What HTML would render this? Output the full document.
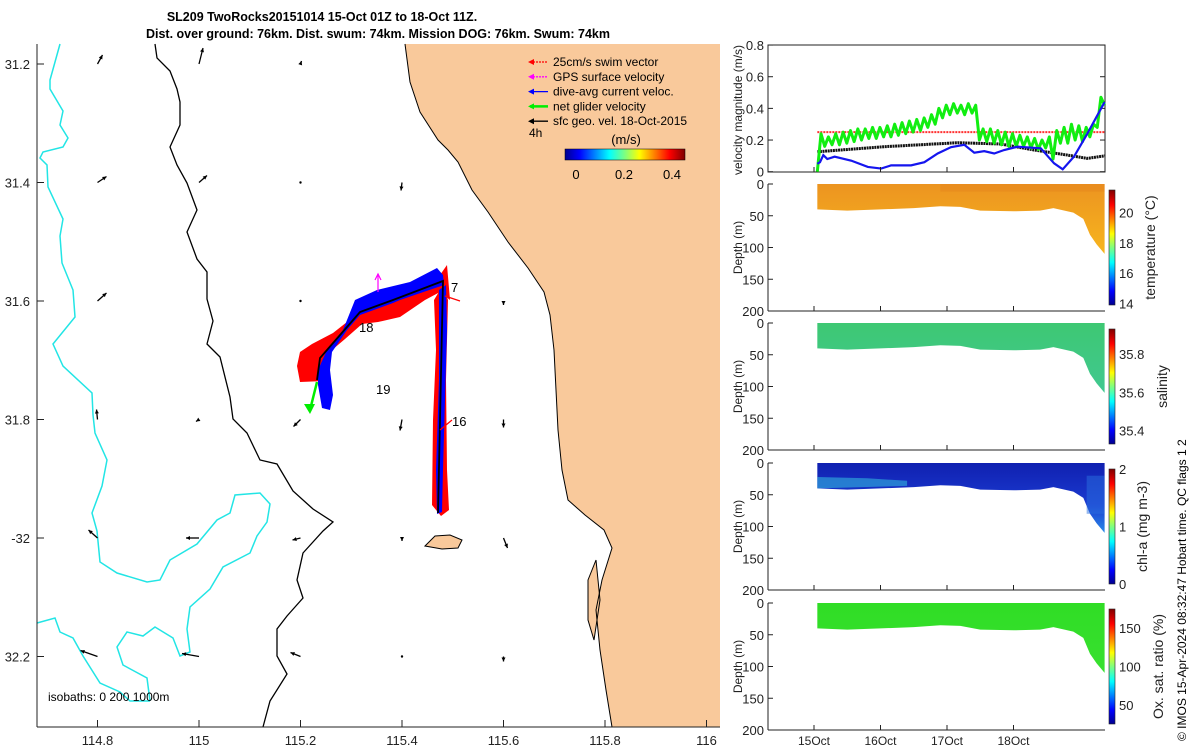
<!DOCTYPE html>
<html><head><meta charset="utf-8">
<style>
html,body{margin:0;padding:0;background:#fff;}
svg{display:block;font-family:"Liberation Sans","DejaVu Sans",sans-serif;}
</style></head>
<body>
<svg id="root" width="1200" height="750" viewBox="0 0 1200 750" xmlns="http://www.w3.org/2000/svg">
<defs>
<linearGradient id="jet" x1="0" x2="1" y1="0" y2="0">
<stop offset="0" stop-color="#00008f"/><stop offset="0.12" stop-color="#0000ff"/><stop offset="0.37" stop-color="#00ffff"/><stop offset="0.5" stop-color="#7fff7f"/><stop offset="0.62" stop-color="#ffff00"/><stop offset="0.87" stop-color="#ff0000"/><stop offset="1" stop-color="#800000"/>
</linearGradient>
<linearGradient id="jetv" x1="0" x2="0" y1="1" y2="0">
<stop offset="0" stop-color="#00008f"/><stop offset="0.12" stop-color="#0000ff"/><stop offset="0.37" stop-color="#00ffff"/><stop offset="0.5" stop-color="#7fff7f"/><stop offset="0.62" stop-color="#ffff00"/><stop offset="0.87" stop-color="#ff0000"/><stop offset="1" stop-color="#800000"/>
</linearGradient>
<linearGradient id="tempg" x1="0" x2="0" y1="0" y2="1"><stop offset="0" stop-color="#ec9420"/><stop offset="1" stop-color="#f7b51e"/></linearGradient>
<linearGradient id="salg" x1="0" x2="0" y1="0" y2="1"><stop offset="0" stop-color="#3ec873"/><stop offset="1" stop-color="#40c890"/></linearGradient>
<linearGradient id="chlg" x1="0" x2="0" y1="0" y2="1"><stop offset="0" stop-color="#1020b0"/><stop offset="0.6" stop-color="#1a3ad0"/><stop offset="1" stop-color="#2a8ae8"/></linearGradient>
<linearGradient id="oxg" x1="0" x2="0" y1="0" y2="1"><stop offset="0" stop-color="#30dd25"/><stop offset="1" stop-color="#38e030"/></linearGradient>
</defs>

<text x="322" y="21" font-size="12.5" font-weight="bold" text-anchor="middle">SL209 TwoRocks20151014 15-Oct 01Z to 18-Oct 11Z.</text>
<text x="378" y="38" font-size="12.5" font-weight="bold" text-anchor="middle">Dist. over ground: 76km. Dist. swum: 74km. Mission DOG: 76km. Swum: 74km</text>

<g id="map">
<polygon fill="#f9c99b" points="405,44 720,44 720,727 612,727 606,690 600,650 596,610 602,580 612,548 604,530 585,515 568,500 562,470 558,430 556,390 554,350 550,315 544,292 528,268 508,242 488,212 472,190 458,162 448,150 438,140 420,112 410,82"/>
<polygon fill="#f9c99b" stroke="#000" stroke-width="1" points="425,546 435,536 450,535 462,540 458,548 442,549"/>
<polygon fill="#f9c99b" stroke="#000" stroke-width="1" points="588,580 596,560 600,600 594,640 588,620"/>
<polyline fill="none" stroke="#000" stroke-width="1" points="405,44 410,82 420,112 438,140 448,150 458,162 472,190 488,212 508,242 528,268 544,292 550,315 554,350 556,390 558,430 562,470 568,500 585,515 604,530 612,548 602,580 596,610 600,650 606,690 612,727"/>
<polyline fill="none" stroke="#000" stroke-width="1.3" points="155,44 157,58 170,71 177,89 180,102 180,125 170,147 177,165 187,183 197,210 187,232 197,259 207,272 207,299 213,321 207,344 220,357 230,397 233,419 247,433 260,460 277,464 293,491 313,509 333,522 323,531 303,553 297,580 303,598 287,616 277,629 277,656 287,674 270,701 263,727"/>
<polyline fill="none" stroke="#22e5e5" stroke-width="1.5" points="60,44 50,80 50,89 63,111 60,125 68,138 63,147 43,152 40,158 47,165 48,187 63,219 60,236 62,263 73,290 75,317 53,344 63,366 92,393 93,415 95,433 107,460 102,486 92,513 97,531 100,562 117,573 147,582 160,580 170,560 197,544 217,520 230,513 235,495 260,493 270,504 267,522 257,536 250,553 223,567 210,589 190,607 187,629 190,652 180,656 173,638 155,627 143,636 127,632 117,647 123,665 147,678 150,701"/>
<polyline fill="none" stroke="#22e5e5" stroke-width="1.5" points="37,623 55,618 60,632 73,638 83,656 100,683 120,692 130,701 150,701"/>
<g id="arrows"></g>
<g id="track">
<polygon fill="#ff0000" points="447,265 450,300 440,292 425,300 400,317 378,322 362,324 345,339 332,350 327,362 325,381 300,382 297,366 300,352 312,344 333,333 347,322 360,313 395,300 440,275"/>
<polygon fill="#ff0000" points="434,300 443,285 448,300 446,380 447,470 449,510 441,516 432,505 433,420 436,350"/>
<polygon fill="#0000ff" points="355,300 377,290 410,282 437,268 443,275 444,285 400,300 393,303 360,315 347,330 332,352 330,370 333,395 330,410 322,408 318,385 318,370 327,350 343,330"/>
<polygon fill="#0000ff" points="439,290 446,285 447,330 445,400 443,470 442,512 437,514 436,470 439,380"/>
<polyline fill="none" stroke="#000" stroke-width="1.8" points="317,380 320,358 347,327 360,312 393,300 443,281 438,513"/>
<line x1="317" y1="382" x2="310" y2="410" stroke="#00ee00" stroke-width="2.5"/>
<polygon fill="#00ee00" points="304,404 310,414 315,404"/>
<line x1="378" y1="292" x2="378" y2="274" stroke="#ff00ff" stroke-width="1.2"/>
<polyline fill="none" stroke="#ff00ff" stroke-width="1.2" points="375,280 378,274 381,280"/>
<line x1="445" y1="296" x2="460" y2="301" stroke="#ff0000" stroke-width="1.2"/>
<line x1="440" y1="430" x2="452" y2="420" stroke="#ff0000" stroke-width="1.2"/>
</g>
<text x="451" y="292" font-size="13">7</text>
<text x="359" y="332" font-size="13">18</text>
<text x="376" y="394" font-size="13">19</text>
<text x="452" y="426" font-size="13">16</text>
<g id="maplegend"></g>
<text x="529" y="137" font-size="12">4h</text>
<rect x="565" y="149" width="120" height="11" fill="url(#jet)" stroke="#000" stroke-width="0.5"/>
<text x="626" y="144" font-size="13" text-anchor="middle">(m/s)</text>
<text x="48" y="701" font-size="12">isobaths: 0   200  1000m</text>
<g id="mapaxes"></g>
</g>

<g id="right"></g>
<text transform="translate(1186,741) rotate(-90)" font-size="12">© IMOS 15-Apr-2024 08:32:47 Hobart time. QC flags 1  2</text>
</svg>
<script>
// ---- Map data ----
const lonTicks = [114.8, 115, 115.2, 115.4, 115.6, 115.8, 116];
const latTicks = [31.2, 31.4, 31.6, 31.8, 32.0, 32.2];
const latLabels = ["31.2", "31.4", "31.6", "31.8", "-32", "32.2"];
// geostrophic vectors: lon, lat, u, v (m/s, arbitrary scale)
const gvLon = [114.8,115,115.2,114.8,115,115.2,115.4,114.8,115.2,115.6,114.8,115,115.2,115.4,115.6,114.8,115,115.2,115.4,115.6,114.8,115,115.2,115.4,115.6];
const gvLat = [31.2,31.2,31.2,31.4,31.4,31.4,31.4,31.6,31.6,31.6,31.8,31.8,31.8,31.8,31.8,32.0,32.0,32.0,32.0,32.0,32.2,32.2,32.2,32.2,32.2];
const gvU = [0.05,0.04,0.01,0.09,0.08,0.0,-0.01,0.09,0.0,0.0,-0.01,-0.03,-0.07,-0.02,0.0,-0.09,-0.13,-0.08,0.0,0.04,-0.17,-0.17,-0.1,-0.01,0.0];
const gvV = [0.09,0.16,0.03,0.06,0.07,0.0,-0.08,0.08,0.0,-0.04,0.1,-0.02,-0.07,-0.11,-0.08,0.08,0.0,-0.02,-0.03,-0.1,0.06,0.03,0.04,0.0,-0.05];
const legendLabels = ["25cm/s swim vector","GPS surface velocity","dive-avg current veloc.","net glider velocity","sfc geo. vel. 18-Oct-2015"];
const legendColors = ["#ff0000","#ff00ff","#0000ff","#00ee00","#000000"];

// ---- Right panels data ----
const dateTicks = [0,1,2,3];
const dateLabels = ["15Oct","16Oct","17Oct","18Oct"];
const velTicks = [0,0.2,0.4,0.6,0.8];
const velLabels = ["0","0.2","0.4","0.6","0.8"];
const netVel = [0,0.24,0.16,0.22,0.17,0.24,0.17,0.25,0.18,0.26,0.19,0.27,0.2,0.27,0.21,0.28,0.21,0.28,0.22,0.29,0.22,0.30,0.23,0.31,0.24,0.32,0.25,0.33,0.26,0.34,0.28,0.36,0.30,0.40,0.34,0.42,0.36,0.43,0.37,0.42,0.36,0.43,0.37,0.42,0.20,0.27,0.19,0.27,0.18,0.26,0.17,0.25,0.16,0.24,0.16,0.23,0.16,0.22,0.15,0.21,0.14,0.2,0.15,0.22,0.08,0.26,0.18,0.28,0.18,0.3,0.2,0.29,0.19,0.28,0.22,0.3,0.28,0.47,0.42];
const netVelStart = 0.05, netVelEnd = 4.37;
const curT = [0.05,0.09,0.14,0.2,0.31,0.56,0.81,1.01,1.16,1.46,1.66,1.86,2.06,2.26,2.41,2.56,2.71,2.86,3.06,3.41,3.61,3.74,3.91,4.11,4.37];
const curV = [0.05,0.06,0.105,0.08,0.095,0.07,0.03,0.02,0.04,0.04,0.06,0.115,0.155,0.17,0.12,0.13,0.115,0.137,0.158,0.148,0.053,0.015,0.095,0.24,0.44];
const geoT = [0.05,1.06,2.16,2.81,3.31,3.81,4.11,4.37];
const geoV = [0.126,0.158,0.183,0.175,0.137,0.105,0.084,0.1];
const swimT = [0.05,4.37];
const swimV = [0.25,0.25];
const depthTicks = [0,50,100,150,200];
const profT = [0.05,0.5,1.0,1.5,1.9,2.2,2.5,3.0,3.4,3.6,3.9,4.05,4.15,4.25,4.37];
const profBottom = [40,42,40,38,35,36,42,43,42,38,45,55,80,95,110];
const panelNames = ["temperature","salinity","chl-a","oxygen"];
const cbLabels = [["14","16","18","20"],["35.4","35.6","35.8"],["0","1","2"],["50","100","150"]];
const cbValues = [[14,16,18,20],[35.4,35.6,35.8],[0,1,2],[50,100,150]];
const cbRange = [[13.9,21.5],[35.33,35.93],[0,2],[25,175]];
const cbTitles = ["temperature (°C)","salinity","chl-a (mg m-3)","Ox. sat. ratio (%)"];
const cbTitleX = [1155,1167,1147,1163];

const NS="http://www.w3.org/2000/svg";
function mk(tag, parent, attrs){const e=document.createElementNS(NS,tag);for(const k in attrs)e.setAttribute(k,attrs[k]);parent.appendChild(e);return e;}
const lonX = lon => 199 + (lon-115)*507.5;
const latY = lat => 64 + (lat-31.2)*592.5;

// map axes
const ma=document.getElementById('mapaxes');
let l=mk('line',ma,{x1:37,y1:44,x2:37,y2:727,stroke:'#222','stroke-width':1});


l=mk('line',ma,{x1:37,y1:727,x2:720,y2:727,stroke:'#222','stroke-width':1});


lonTicks.forEach(v=>{const x=lonX(v);
 mk('line',ma,{x1:x,y1:727,x2:x,y2:720,stroke:'#222'});
 const t=mk('text',ma,{x:x,y:745,'font-size':13,'text-anchor':'middle',fill:'#222'});t.textContent=String(v);
 
 });
latTicks.forEach((v,i)=>{const y=latY(v);
 mk('line',ma,{x1:37,y1:y,x2:44,y2:y,stroke:'#222'});
 const t=mk('text',ma,{x:30,y:y+5,'font-size':13,'text-anchor':'end',fill:'#222'});t.textContent=latLabels[i];
 
 });

// geostrophic arrows
const ag=document.getElementById('arrows');
const AS=100;
gvLon.forEach((lo,i)=>{const x=lonX(lo),y=latY(gvLat[i]);const dx=gvU[i]*AS,dy=-gvV[i]*AS;
 const g=mk('g',ag,{});
 
 
 mk('line',g,{x1:x,y1:y,x2:x+dx,y2:y+dy,stroke:'#000','stroke-width':1.3});
 const len=Math.hypot(dx,dy);
 if(len>2){const ux=dx/len,uy=dy/len;const hx=x+dx,hy=y+dy;
  mk('polygon',g,{points:`${hx},${hy} ${hx-ux*4-uy*2},${hy-uy*4+ux*2} ${hx-ux*4+uy*2},${hy-uy*4-ux*2}`,fill:'#000'});}
 else mk('circle',g,{cx:x,cy:y,r:1.2,fill:'#000'});
});

// legend
const lg=document.getElementById('maplegend');
legendLabels.forEach((s,i)=>{const y=62+i*14.8;
 const g=mk('g',lg,{});
 
 
 mk('line',g,{x1:530,y1:y,x2:548,y2:y,stroke:legendColors[i],'stroke-width':i==3?2.5:1.3,'stroke-dasharray':i<2?'2,1':''});
 mk('polygon',g,{points:`${528},${y} ${534},${y-3} ${534},${y+3}`,fill:legendColors[i]});
 const t=mk('text',g,{x:553,y:y+4,'font-size':12});t.textContent=s;});
[0,0.2,0.4].forEach((v,i)=>{const t=mk('text',lg,{x:576+v*240,y:179,'font-size':13,'text-anchor':'middle'});t.textContent=["0","0.2","0.4"][i];
 
 });

// right panels
const R=document.getElementById('right');
const X0=768,X1=1105;
const tX = d => 814 + d*66.5;
const vY = v => 171.7 - v*158.3;
// velocity panel
const vp=mk('g',R,{});


mk('rect',vp,{x:X0,y:45,width:X1-X0,height:127,fill:'#fff',stroke:'#222','stroke-width':1});
velTicks.forEach((v,i)=>{const y=vY(v);mk('line',vp,{x1:X0,y1:y,x2:X0+5,y2:y,stroke:'#222'});mk('line',vp,{x1:X1,y1:y,x2:X1-5,y2:y,stroke:'#222'});
 const t=mk('text',vp,{x:X0-4,y:y+5,'font-size':13,'text-anchor':'end',fill:'#222'});t.textContent=velLabels[i];
 
 });
let t=mk('text',vp,{transform:'translate(742,110) rotate(-90)','font-size':12,'text-anchor':'middle',fill:'#222'});t.textContent='velocity magnitude (m/s)';


function pl(par,ts,vs,attrs,name){const p=mk('polyline',par,Object.assign({fill:'none',points:ts.map((d,i)=>tX(d)+','+vY(vs[i])).join(' ')},attrs));
 
 return p;}
pl(vp,swimT,swimV,{stroke:'#ff3030','stroke-width':2,'stroke-dasharray':'2,1'},'swim-speed-line');
pl(vp,geoT,geoV,{stroke:'#111','stroke-width':3,'stroke-dasharray':'2,0.6'},'geo-velocity-line');
const nT=netVel.map((v,i)=>netVelStart+(netVelEnd-netVelStart)*i/(netVel.length-1));
pl(vp,nT,netVel,{stroke:'#11ee11','stroke-width':3,'stroke-linejoin':'round'},'net-velocity-line');
pl(vp,curT,curV,{stroke:'#1515ee','stroke-width':2.2},'current-velocity-line');

// section panels
const tops=[184,323,463,603];
const fills=['url(#tempg)','url(#salg)','url(#chlg)','url(#oxg)'];
tops.forEach((top,pi)=>{
 const H=127;const dY=d=>top+d*H/200;
 const g=mk('g',R,{});
 
 
 const pts=[tX(profT[0])+','+dY(0)];
 profT.forEach((d,i)=>pts.push(tX(d)+','+dY(profBottom[i])));
 pts.push(tX(profT[profT.length-1])+','+dY(0));
 const sec=mk('polygon',g,{points:pts.join(' '),fill:fills[pi]});
 
 
 if(pi==2){const p2=[tX(0.05)+','+dY(22)];[[0.05,22],[0.8,24],[1.4,28]].forEach(a=>p2.push(tX(a[0])+','+dY(a[1])));
  p2.push(tX(1.4)+','+dY(36));p2.push(tX(0.05)+','+dY(40));mk('polygon',g,{points:p2.join(' '),fill:'#2ea0d8',opacity:0.7});
  mk('rect',g,{x:tX(4.1),y:dY(20),width:tX(4.37)-tX(4.1),height:dY(80)-dY(20),fill:'#2a70e0',opacity:0.5});}
 if(pi==0){mk('rect',g,{x:tX(1.9),y:dY(0),width:tX(4.37)-tX(1.9),height:dY(12)-dY(0),fill:'#e07c1a',opacity:0.3});}
 mk('line',g,{x1:X0,y1:top,x2:X0,y2:top+H,stroke:'#222'});
 mk('line',g,{x1:X0,y1:top+H,x2:X1,y2:top+H,stroke:'#222'});
 depthTicks.forEach(d=>{const y=dY(d);mk('line',g,{x1:X0,y1:y,x2:X0+5,y2:y,stroke:'#222'});
  const tt=mk('text',g,{x:X0-4,y:y+5,'font-size':13,'text-anchor':'end',fill:'#222'});tt.textContent=String(d);
  
  });
 const yt=mk('text',g,{transform:`translate(742,${top+H/2}) rotate(-90)`,'font-size':12,'text-anchor':'middle',fill:'#222'});yt.textContent='Depth (m)';
 
 
 // colorbar
 const cy0=top+6,cy1=top+H-6;const rng=cbRange[pi];
 const cb=mk('rect',g,{x:1109,y:cy0,width:6,height:cy1-cy0,fill:'url(#jetv)',stroke:'#222','stroke-width':0.6});
 
 
 cbValues[pi].forEach((v,k)=>{const y=cy1-(v-rng[0])/(rng[1]-rng[0])*(cy1-cy0);
  const ct=mk('text',g,{x:1119,y:y+5,'font-size':13,fill:'#222'});ct.textContent=cbLabels[pi][k];
  
  });
 const ctl=mk('text',g,{transform:`translate(${cbTitleX[pi]},${top+H/2}) rotate(-90)`,'font-size':14,'text-anchor':'middle',fill:'#222'});ctl.textContent=cbTitles[pi];
 
 
});
// date ticks
dateTicks.forEach((d,i)=>{const x=tX(d);
 [[45,172],[184,311],[323,450],[463,590],[603,730]].forEach(r=>{mk('line',R,{x1:x,y1:r[1],x2:x,y2:r[1]-5,stroke:'#222'});});
 const dt=mk('text',R,{x:x,y:745,'font-size':12,'text-anchor':'middle',fill:'#222'});dt.textContent=dateLabels[i];
 
 });
</script>
</body></html>
